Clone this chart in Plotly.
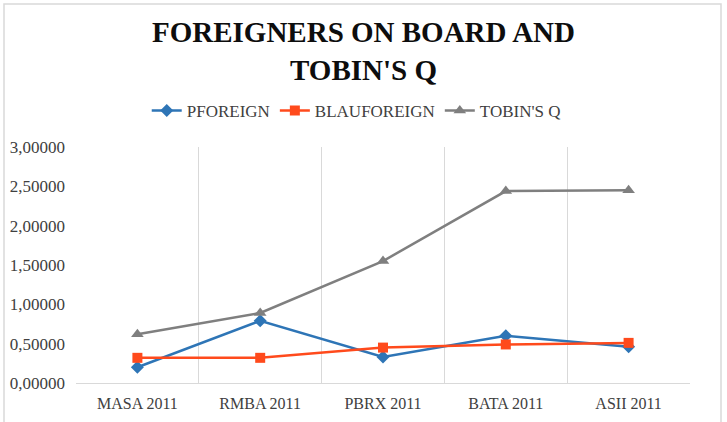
import plotly.graph_objects as go

categories = ["MASA 2011", "RMBA 2011", "PBRX 2011", "BATA 2011", "ASII 2011"]
pforeign = [0.20, 0.79, 0.33, 0.60, 0.46]
blauforeign = [0.32, 0.32, 0.45, 0.49, 0.51]
tobins_q = [0.62, 0.89, 1.55, 2.44, 2.45]
y_ticks = [0, 0.5, 1.0, 1.5, 2.0, 2.5, 3.0]

W, H = 727, 422
L, R, T, B = 76, 37, 147, 39
pw, ph = W - L - R, H - T - B

fig = go.Figure()
fig.add_trace(go.Scatter(x=categories, y=pforeign, name="PFOREIGN", mode="lines+markers",
                         line=dict(color="#2E75B6", width=2.5),
                         marker=dict(symbol="diamond", size=10, color="#2E75B6")))
fig.add_trace(go.Scatter(x=categories, y=blauforeign, name="BLAUFOREIGN", mode="lines+markers",
                         line=dict(color="#FF4A1C", width=2.5),
                         marker=dict(symbol="square", size=10, color="#FF4A1C")))
fig.add_trace(go.Scatter(x=categories, y=tobins_q, name="TOBIN'S Q", mode="lines+markers",
                         line=dict(color="#7F7F7F", width=2.5),
                         marker=dict(symbol="triangle-up", size=11, color="#7F7F7F")))

def px_x(p):
    return (p - L) / pw

def px_y(p):
    return (H - B - p) / ph

fig.add_shape(type="rect", xref="paper", yref="paper",
              x0=px_x(4), x1=px_x(721), y0=px_y(432), y1=px_y(4),
              line=dict(color="#D9D9D9", width=1.5), layer="below")

fig.update_layout(
    width=W, height=H,
    margin=dict(l=L, r=R, t=T, b=B, autoexpand=False),
    paper_bgcolor="white", plot_bgcolor="white",
    separators=",.",
    font=dict(family="Liberation Serif", color="#404040"),
    title=dict(text="<b>FOREIGNERS ON BOARD AND<br>TOBIN'S Q</b>",
               x=0.5, xref="container", xanchor="center",
               y=1 - 42 / H, yref="container", yanchor="top",
               font=dict(family="Liberation Serif", size=29, color="#0D0D0D")),
    legend=dict(orientation="h", x=0.49, xref="container", xanchor="center",
                y=1 - 111 / H, yref="container", yanchor="middle",
                font=dict(family="Liberation Serif", size=17, color="#404040"),
                itemwidth=30, tracegroupgap=0),
    showlegend=True,
)
fig.update_xaxes(type="category", range=[-0.5, 4.5], tickson="boundaries",
                 showgrid=True, gridcolor="#D9D9D9", gridwidth=1,
                 showline=True, linecolor="#D9D9D9", linewidth=1,
                 ticks="", ticklabelstandoff=6, automargin=False,
                 tickfont=dict(family="Liberation Serif", size=16, color="#404040"),
                 zeroline=False)
fig.update_yaxes(range=[0, 3.0], tickvals=y_ticks, tickformat=".5f",
                 showgrid=False, zeroline=False, showline=False, ticks="",
                 ticklabelstandoff=10, automargin=False,
                 tickfont=dict(family="Liberation Serif", size=17, color="#404040"))

fig.write_html("out.html")
